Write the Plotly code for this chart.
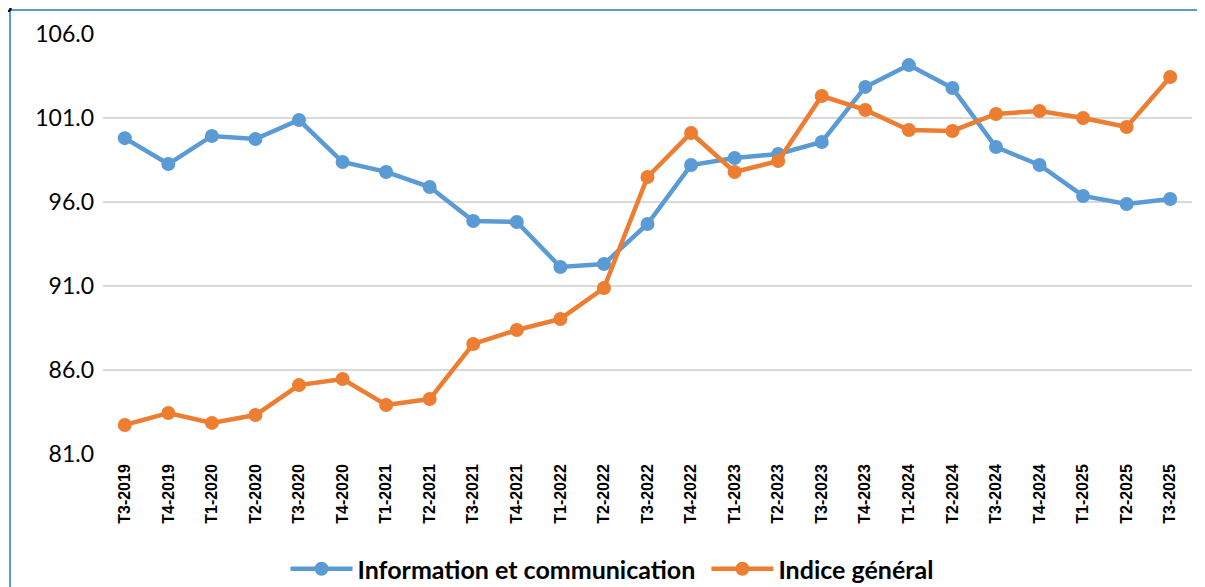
import plotly.graph_objects as go

categories = ["T3-2019", "T4-2019", "T1-2020", "T2-2020", "T3-2020", "T4-2020",
              "T1-2021", "T2-2021", "T3-2021", "T4-2021", "T1-2022", "T2-2022",
              "T3-2022", "T4-2022", "T1-2023", "T2-2023", "T3-2023", "T4-2023",
              "T1-2024", "T2-2024", "T3-2024", "T4-2024", "T1-2025", "T2-2025",
              "T3-2025"]

info_comm = [99.8, 98.26, 99.93, 99.75, 100.88, 98.38,
             97.79, 96.89, 94.87, 94.81, 92.13, 92.31,
             94.69, 98.2, 98.62, 98.86, 99.57, 102.85,
             104.15, 102.79, 99.27, 98.2, 96.36, 95.88,
             96.18]

indice_general = [82.73, 83.44, 82.85, 83.32, 85.1, 85.46,
                  83.92, 84.27, 87.55, 88.38, 89.04, 90.88,
                  97.49, 100.11, 97.79, 98.44, 102.31, 101.48,
                  100.29, 100.23, 101.24, 101.42, 101.0, 100.46,
                  103.44]

y_ticks = [81, 86, 91, 96, 101, 106]

BLUE = "#5b9bd5"
ORANGE = "#ed7d31"

# the page body adds an 8px offset; the figure geometry compensates for it
L, T, W, H = 95, 26, 1089, 420

fig = go.Figure()
fig.add_trace(go.Scatter(x=categories, y=info_comm, mode="lines+markers",
                         name="Information et communication\u00a0",
                         line=dict(color=BLUE, width=4.5),
                         marker=dict(color=BLUE, size=14)))
fig.add_trace(go.Scatter(x=categories, y=indice_general, mode="lines+markers",
                         name="Indice général",
                         line=dict(color=ORANGE, width=4.5),
                         marker=dict(color=ORANGE, size=14)))

fig.update_layout(
    width=1205, height=587,
    margin=dict(l=L, r=1205 - L - W, t=T, b=587 - T - H, autoexpand=False),
    paper_bgcolor="white", plot_bgcolor="white",
    showlegend=True,
    legend=dict(orientation="h", x=(604 - L) / W, xanchor="center", y=-115 / H, yanchor="middle",
                font=dict(family="Lato", size=25, color="#000000", weight="bold"),
                itemwidth=62, traceorder="normal"),
    xaxis=dict(type="category", range=[-0.5, len(categories) - 0.5],
               tickangle=-90, showgrid=False, zeroline=False, showline=False,
               ticks="", ticklabelstandoff=6, automargin=False,
               tickfont=dict(family="Liberation Sans", size=16, color="#000000", weight="bold")),
    yaxis=dict(range=[81, 106], tickvals=y_ticks, tickformat=".1f",
               showgrid=True, gridcolor="#d9d9d9", gridwidth=1.5, automargin=False,
               zeroline=False, showline=False, ticks="", ticklabelstandoff=8,
               tickfont=dict(family="Lato", size=23, color="#000000")),
    shapes=[dict(type="rect", xref="paper", yref="paper",
                 x0=(2 - L) / W, x1=1.05, y0=-0.5, y1=1 + (T - 2) / H,
                 line=dict(color="#5b9bd5", width=2), fillcolor="rgba(0,0,0,0)",
                 layer="below")],
    annotations=[dict(text="<b>global</b>", xref="paper", yref="paper",
                      x=(-8 - L) / W, xanchor="left", y=1 + (T - 6) / H, yanchor="bottom",
                      showarrow=False,
                      font=dict(family="Liberation Sans", size=18, color="#000000"))],
)

fig.write_html("out.html")
